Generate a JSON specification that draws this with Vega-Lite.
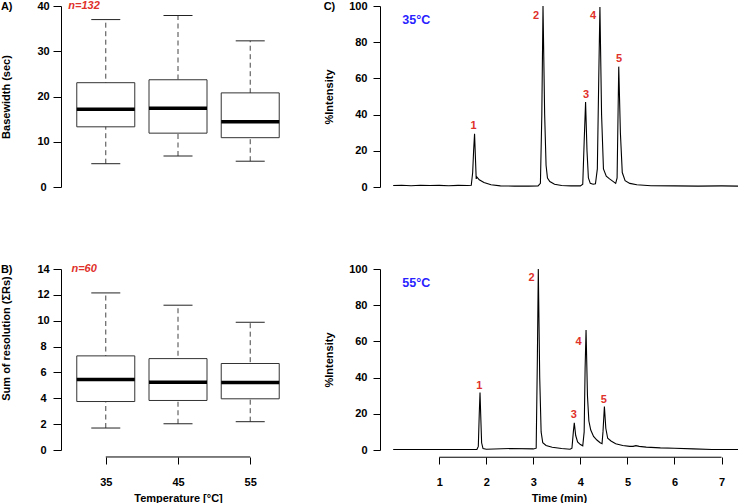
{
  "$schema": "https://vega.github.io/schema/vega-lite/v6.json",
  "padding": {"left": 0, "top": 0, "right": 0, "bottom": 0},
  "config": {
    "view": {"stroke": null},
    "font": "Liberation Sans",
    "axis": {
      "grid": false, "labelOverlap": false, "tickCount": 12, "format": "d",
      "labelFont": "Liberation Sans", "labelFontSize": 11, "labelFontWeight": "bold", "labelColor": "#000",
      "titleFont": "Liberation Sans", "titleFontSize": 11, "titleFontWeight": "bold", "titleColor": "#000",
      "domainColor": "#000", "tickColor": "#000"
    },
    "tick": {"opacity": 1},
    "title": {"font": "Liberation Sans", "fontSize": 11, "fontWeight": "bold", "color": "#000", "anchor": "start", "frame": "bounds", "offset": -12}
  },
  "datasets": {
    "basewidth": [
      {"temperature": 35, "lower_whisker": 5.15, "q1": 13.3, "median": 17.2, "q3": 23.05, "upper_whisker": 37.0},
      {"temperature": 45, "lower_whisker": 6.85, "q1": 11.9, "median": 17.4, "q3": 23.7, "upper_whisker": 37.9},
      {"temperature": 55, "lower_whisker": 5.7, "q1": 10.9, "median": 14.4, "q3": 20.8, "upper_whisker": 32.3}
    ],
    "resolution": [
      {"temperature": 35, "lower_whisker": 1.7, "q1": 3.75, "median": 5.45, "q3": 7.28, "upper_whisker": 12.15},
      {"temperature": 45, "lower_whisker": 2.03, "q1": 3.83, "median": 5.25, "q3": 7.07, "upper_whisker": 11.2},
      {"temperature": 55, "lower_whisker": 2.19, "q1": 3.96, "median": 5.22, "q3": 6.69, "upper_whisker": 9.88}
    ],
    "chrom35": [
      {"time": 0.02, "intensity": 0.8}, {"time": 0.2, "intensity": 1.0}, {"time": 0.4, "intensity": 0.7}, {"time": 0.6, "intensity": 1.0},
      {"time": 0.8, "intensity": 0.8}, {"time": 1.0, "intensity": 0.9}, {"time": 1.2, "intensity": 0.7}, {"time": 1.4, "intensity": 0.9},
      {"time": 1.6, "intensity": 0.8}, {"time": 1.68, "intensity": 1.0}, {"time": 1.71, "intensity": 8}, {"time": 1.73, "intensity": 20},
      {"time": 1.75, "intensity": 29.4}, {"time": 1.77, "intensity": 15}, {"time": 1.785, "intensity": 4.5}, {"time": 1.8, "intensity": 5.5},
      {"time": 1.85, "intensity": 4}, {"time": 1.95, "intensity": 2.5}, {"time": 2.1, "intensity": 1.2}, {"time": 2.3, "intensity": 0.6},
      {"time": 2.6, "intensity": 0.5}, {"time": 2.9, "intensity": 0.5}, {"time": 3.1, "intensity": 0.6}, {"time": 3.15, "intensity": 2},
      {"time": 3.18, "intensity": 40}, {"time": 3.205, "intensity": 100}, {"time": 3.24, "intensity": 40}, {"time": 3.27, "intensity": 12},
      {"time": 3.3, "intensity": 5}, {"time": 3.35, "intensity": 3}, {"time": 3.45, "intensity": 1.5}, {"time": 3.6, "intensity": 0.8},
      {"time": 3.8, "intensity": 0.6}, {"time": 4.0, "intensity": 0.6}, {"time": 4.05, "intensity": 1.5}, {"time": 4.08, "intensity": 25},
      {"time": 4.11, "intensity": 47}, {"time": 4.14, "intensity": 20}, {"time": 4.17, "intensity": 5}, {"time": 4.21, "intensity": 2},
      {"time": 4.27, "intensity": 1.5}, {"time": 4.32, "intensity": 1.8}, {"time": 4.36, "intensity": 10}, {"time": 4.39, "intensity": 60},
      {"time": 4.415, "intensity": 99.4}, {"time": 4.45, "intensity": 40}, {"time": 4.49, "intensity": 10}, {"time": 4.55, "intensity": 6},
      {"time": 4.62, "intensity": 4.5}, {"time": 4.7, "intensity": 3}, {"time": 4.75, "intensity": 2}, {"time": 4.78, "intensity": 5},
      {"time": 4.8, "intensity": 40}, {"time": 4.815, "intensity": 66.5}, {"time": 4.85, "intensity": 30}, {"time": 4.89, "intensity": 8},
      {"time": 4.95, "intensity": 3.5}, {"time": 5.05, "intensity": 2}, {"time": 5.2, "intensity": 1.2}, {"time": 5.5, "intensity": 0.7},
      {"time": 6.0, "intensity": 0.6}, {"time": 6.5, "intensity": 0.5}, {"time": 7.0, "intensity": 0.6}, {"time": 7.35, "intensity": 0.5}
    ],
    "chrom55": [
      {"time": 0.02, "intensity": 0.3}, {"time": 0.5, "intensity": 0.3}, {"time": 1.0, "intensity": 0.3}, {"time": 1.5, "intensity": 0.3},
      {"time": 1.8, "intensity": 0.3}, {"time": 1.83, "intensity": 2}, {"time": 1.85, "intensity": 20}, {"time": 1.866, "intensity": 31.8},
      {"time": 1.88, "intensity": 20}, {"time": 1.9, "intensity": 4}, {"time": 1.93, "intensity": 0.8}, {"time": 2.0, "intensity": 0.4},
      {"time": 2.5, "intensity": 0.8}, {"time": 3.0, "intensity": 0.6}, {"time": 3.06, "intensity": 1}, {"time": 3.085, "intensity": 50},
      {"time": 3.105, "intensity": 100}, {"time": 3.135, "intensity": 40}, {"time": 3.165, "intensity": 10}, {"time": 3.2, "intensity": 4},
      {"time": 3.27, "intensity": 2.5}, {"time": 3.4, "intensity": 1.5}, {"time": 3.6, "intensity": 0.8}, {"time": 3.78, "intensity": 0.4},
      {"time": 3.82, "intensity": 1}, {"time": 3.85, "intensity": 10}, {"time": 3.87, "intensity": 15}, {"time": 3.9, "intensity": 8},
      {"time": 3.94, "intensity": 4.5}, {"time": 4.0, "intensity": 3}, {"time": 4.05, "intensity": 2.3}, {"time": 4.08, "intensity": 10},
      {"time": 4.1, "intensity": 45}, {"time": 4.12, "intensity": 66.3}, {"time": 4.15, "intensity": 30}, {"time": 4.18, "intensity": 16},
      {"time": 4.22, "intensity": 11}, {"time": 4.28, "intensity": 7.5}, {"time": 4.35, "intensity": 5.5}, {"time": 4.42, "intensity": 4},
      {"time": 4.46, "intensity": 3.5}, {"time": 4.48, "intensity": 10}, {"time": 4.51, "intensity": 24}, {"time": 4.54, "intensity": 12},
      {"time": 4.58, "intensity": 6.5}, {"time": 4.65, "intensity": 5}, {"time": 4.75, "intensity": 3.5}, {"time": 4.9, "intensity": 2.5},
      {"time": 5.05, "intensity": 2}, {"time": 5.12, "intensity": 2}, {"time": 5.18, "intensity": 2.4}, {"time": 5.25, "intensity": 2.0},
      {"time": 5.4, "intensity": 1.6}, {"time": 5.7, "intensity": 1.2}, {"time": 6.0, "intensity": 1.0}, {"time": 6.4, "intensity": 0.6},
      {"time": 6.8, "intensity": 0.3}, {"time": 7.35, "intensity": 0.3}
    ],
    "peaks35": [
      {"peak": "1", "time": 1.73, "intensity": 33.5}, {"peak": "2", "time": 3.06, "intensity": 94.6},
      {"peak": "3", "time": 4.12, "intensity": 50.7}, {"peak": "4", "time": 4.27, "intensity": 94.6},
      {"peak": "5", "time": 4.82, "intensity": 70.9}
    ],
    "peaks55": [
      {"peak": "1", "time": 1.85, "intensity": 35.5}, {"peak": "2", "time": 2.96, "intensity": 94.9},
      {"peak": "3", "time": 3.86, "intensity": 19.6}, {"peak": "4", "time": 3.96, "intensity": 59.7},
      {"peak": "5", "time": 4.5, "intensity": 27.4}
    ]
  },
  "columns": 2,
  "spacing": {"row": 71, "column": 28},
  "concat": [
    {
      "width": 234, "height": 181,
      "title": {"text": "A)"},
      "data": {"name": "basewidth"},
      "layer": [
        {
          "mark": {"type": "rule", "stroke": "#444", "strokeDash": [5, 3.5]},
          "encoding": {
            "x": {"field": "temperature", "type": "quantitative", "scale": {"domain": [28.8, 61.2], "nice": false, "padding": 0}, "axis": null},
            "y": {"field": "lower_whisker", "type": "quantitative", "scale": {"domain": [0, 40], "nice": false},
                  "axis": {"title": "Basewidth (sec)", "values": [0, 10, 20, 30, 40], "tickSize": 8, "labelAlign": "center", "labelBaseline": "middle", "labelPadding": 10, "titlePadding": 25}},
            "y2": {"field": "upper_whisker"}
          }
        },
        {
          "mark": {"type": "tick", "orient": "horizontal", "size": 29, "thickness": 1, "color": "#222"},
          "encoding": {"x": {"field": "temperature", "type": "quantitative"}, "y": {"field": "upper_whisker", "type": "quantitative"}}
        },
        {
          "mark": {"type": "tick", "orient": "horizontal", "size": 29, "thickness": 1, "color": "#222"},
          "encoding": {"x": {"field": "temperature", "type": "quantitative"}, "y": {"field": "lower_whisker", "type": "quantitative"}}
        },
        {
          "mark": {"type": "bar", "orient": "vertical", "size": 58, "fill": "#fff", "stroke": "#333", "strokeWidth": 1},
          "encoding": {"x": {"field": "temperature", "type": "quantitative"}, "y": {"field": "q1", "type": "quantitative"}, "y2": {"field": "q3"}}
        },
        {
          "mark": {"type": "tick", "orient": "horizontal", "size": 58, "thickness": 3.5, "color": "#000"},
          "encoding": {"x": {"field": "temperature", "type": "quantitative"}, "y": {"field": "median", "type": "quantitative"}}
        },
        {
          "data": {"values": [{"note": "n=132"}]},
          "mark": {"type": "text", "color": "#e0302a", "fontStyle": "italic", "fontWeight": "bold", "fontSize": 11, "align": "center", "baseline": "middle"},
          "encoding": {"x": {"datum": 32}, "y": {"datum": 40}, "text": {"field": "note"}}
        }
      ]
    },
    {
      "width": 358, "height": 181,
      "title": {"text": "C)"},
      "layer": [
        {
          "data": {"name": "chrom35"},
          "mark": {"type": "line", "color": "#000", "strokeWidth": 1.1},
          "encoding": {
            "x": {"field": "time", "type": "quantitative", "scale": {"domain": [-0.26, 7.35], "nice": false}, "axis": null},
            "y": {"field": "intensity", "type": "quantitative", "scale": {"domain": [0, 100], "nice": false},
                  "axis": {"title": "%Intensity", "values": [0, 20, 40, 60, 80, 100], "tickSize": 7, "labelAlign": "right", "labelBaseline": "middle", "labelPadding": 6, "titlePadding": 14}}
          }
        },
        {
          "data": {"name": "peaks35"},
          "mark": {"type": "text", "color": "#e0302a", "fontWeight": "bold", "fontSize": 11, "align": "center", "baseline": "middle"},
          "encoding": {"x": {"field": "time", "type": "quantitative"}, "y": {"field": "intensity", "type": "quantitative"}, "text": {"field": "peak"}}
        },
        {
          "data": {"values": [{"temp": "35°C"}]},
          "mark": {"type": "text", "color": "#2a1fff", "fontWeight": "bold", "fontSize": 12.5, "align": "center", "baseline": "middle"},
          "encoding": {"x": {"datum": 0.51}, "y": {"datum": 92.3}, "text": {"field": "temp"}}
        }
      ]
    },
    {
      "width": 234, "height": 181,
      "title": {"text": "B)"},
      "data": {"name": "resolution"},
      "layer": [
        {
          "mark": {"type": "rule", "stroke": "#444", "strokeDash": [5, 3.5]},
          "encoding": {
            "x": {"field": "temperature", "type": "quantitative", "scale": {"domain": [28.8, 61.2], "nice": false, "padding": 0},
                  "axis": {"title": "Temperature [°C]", "values": [35, 45, 55], "domain": false, "offset": 7, "tickSize": 7, "labelPadding": 12, "titlePadding": 5}},
            "y": {"field": "lower_whisker", "type": "quantitative", "scale": {"domain": [0, 14], "nice": false},
                  "axis": {"title": "Sum of resolution (ΣRs)", "values": [0, 2, 4, 6, 8, 10, 12, 14], "tickSize": 8, "labelAlign": "center", "labelBaseline": "middle", "labelPadding": 10, "titlePadding": 25, "titleY": 69}},
            "y2": {"field": "upper_whisker"}
          }
        },
        {
          "mark": {"type": "tick", "orient": "horizontal", "size": 29, "thickness": 1, "color": "#222"},
          "encoding": {"x": {"field": "temperature", "type": "quantitative"}, "y": {"field": "upper_whisker", "type": "quantitative"}}
        },
        {
          "mark": {"type": "tick", "orient": "horizontal", "size": 29, "thickness": 1, "color": "#222"},
          "encoding": {"x": {"field": "temperature", "type": "quantitative"}, "y": {"field": "lower_whisker", "type": "quantitative"}}
        },
        {
          "mark": {"type": "bar", "orient": "vertical", "size": 58, "fill": "#fff", "stroke": "#333", "strokeWidth": 1},
          "encoding": {"x": {"field": "temperature", "type": "quantitative"}, "y": {"field": "q1", "type": "quantitative"}, "y2": {"field": "q3"}}
        },
        {
          "mark": {"type": "tick", "orient": "horizontal", "size": 58, "thickness": 3.5, "color": "#000"},
          "encoding": {"x": {"field": "temperature", "type": "quantitative"}, "y": {"field": "median", "type": "quantitative"}}
        },
        {
          "data": {"values": [{"note": "n=60"}]},
          "mark": {"type": "text", "color": "#e0302a", "fontStyle": "italic", "fontWeight": "bold", "fontSize": 11, "align": "center", "baseline": "middle"},
          "encoding": {"x": {"datum": 32}, "y": {"datum": 14}, "text": {"field": "note"}}
        },
        {
          "data": {"values": [{"axis": "x"}]},
          "mark": {"type": "rule", "color": "#000", "clip": false},
          "encoding": {"x": {"datum": 35}, "x2": {"datum": 55}, "y": {"datum": -0.54}}
        }
      ]
    },
    {
      "width": 358, "height": 181,
      "layer": [
        {
          "data": {"name": "chrom55"},
          "mark": {"type": "line", "color": "#000", "strokeWidth": 1.1},
          "encoding": {
            "x": {"field": "time", "type": "quantitative", "scale": {"domain": [-0.26, 7.35], "nice": false},
                  "axis": {"title": "Time (min)", "values": [1, 2, 3, 4, 5, 6, 7], "domain": false, "offset": 7, "tickSize": 7, "labelPadding": 12, "titlePadding": 5}},
            "y": {"field": "intensity", "type": "quantitative", "scale": {"domain": [0, 100], "nice": false},
                  "axis": {"title": "%Intensity", "values": [0, 20, 40, 60, 80, 100], "tickSize": 7, "labelAlign": "right", "labelBaseline": "middle", "labelPadding": 6, "titlePadding": 14}}
          }
        },
        {
          "data": {"name": "peaks55"},
          "mark": {"type": "text", "color": "#e0302a", "fontWeight": "bold", "fontSize": 11, "align": "center", "baseline": "middle"},
          "encoding": {"x": {"field": "time", "type": "quantitative"}, "y": {"field": "intensity", "type": "quantitative"}, "text": {"field": "peak"}}
        },
        {
          "data": {"values": [{"temp": "55°C"}]},
          "mark": {"type": "text", "color": "#2a1fff", "fontWeight": "bold", "fontSize": 12.5, "align": "center", "baseline": "middle"},
          "encoding": {"x": {"datum": 0.51}, "y": {"datum": 92.4}, "text": {"field": "temp"}}
        },
        {
          "data": {"values": [{"axis": "x"}]},
          "mark": {"type": "rule", "color": "#000", "clip": false},
          "encoding": {"x": {"datum": 1}, "x2": {"datum": 7}, "y": {"datum": -4}}
        }
      ]
    }
  ]
}
